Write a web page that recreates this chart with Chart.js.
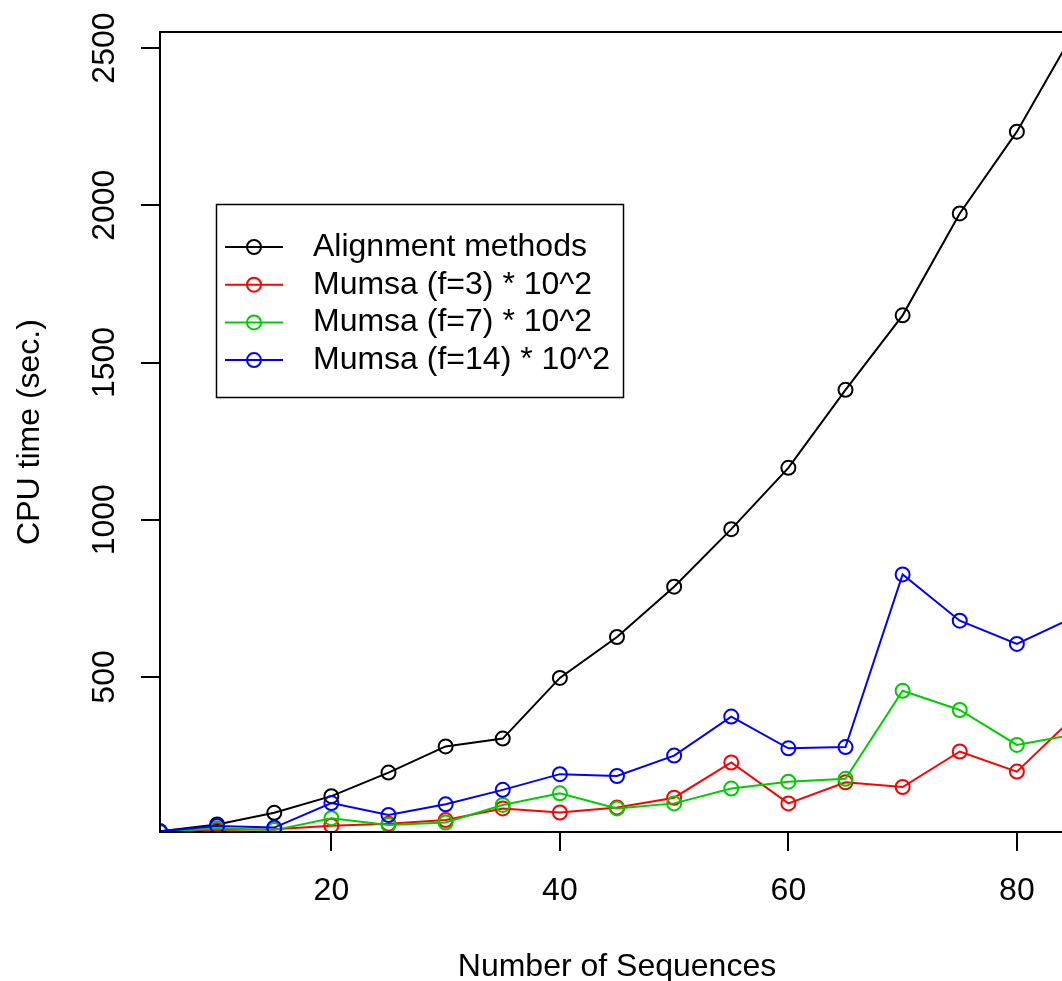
<!DOCTYPE html>
<html>
<head>
<meta charset="utf-8">
<script src="https://cdn.jsdelivr.net/npm/chart.js@4.4.1/dist/chart.umd.min.js"></script>
<style>
html, body { margin: 0; padding: 0; background: #fff; overflow: hidden; }
#cpuChart { display: block; width: 1074px; height: 981px; }
</style>
</head>
<body>
<canvas id="cpuChart" width="1074" height="981"></canvas>
<script>
// CPU time vs number of sequences
const nbSequences = [5, 10, 15, 20, 25, 30, 35, 40, 45, 50, 55, 60, 65, 70, 75, 80, 85];
const alignmentTimes = [9, 31, 68, 121, 196, 279, 304, 497, 627, 787, 970, 1165, 1413, 1650, 1974, 2234, 2551];
const mumsaF3 = [7, 13, 16, 27, 33, 45, 82, 69, 85, 116, 228, 98, 165, 150, 263, 199, 373];
const mumsaF7 = [7, 19, 13, 51, 29, 37, 93, 130, 82, 98, 145, 167, 176, 456, 395, 284, 317];
const mumsaF14 = [9, 26, 21, 99, 61, 95, 141, 191, 185, 250, 374, 273, 277, 826, 679, 605, 690];
const xTicks = [20, 40, 60, 80];
const yTicks = [500, 1000, 1500, 2000, 2500];

const FONT = "'Liberation Sans', Arial, Helvetica, sans-serif";
const FONT_SIZE = 32;

function toPoints(values) {
    return values.map((v, i) => ({ x: nbSequences[i], y: v }));
}

function serie(label, values, color, order) {
    return {
        label: label,
        data: toPoints(values),
        borderColor: color,
        backgroundColor: 'rgba(0,0,0,0)',
        borderWidth: 2,
        pointRadius: 7,
        pointBorderWidth: 2,
        pointBorderColor: color,
        pointBackgroundColor: 'rgba(0,0,0,0)',
        tension: 0,
        order: order
    };
}

// box around the plot + legend like R's legend()
const boxAndLegend = {
    id: 'boxAndLegend',
    afterDraw(chart) {
        const ctx = chart.ctx;
        const a = chart.chartArea;
        ctx.save();
        ctx.strokeStyle = '#000';
        ctx.lineWidth = 2;
        ctx.strokeRect(a.left, a.top, a.right - a.left, a.bottom - a.top);

        ctx.lineWidth = 1.5;
        ctx.strokeRect(216.5, 204.5, 407, 193);
        ctx.font = FONT_SIZE + 'px ' + FONT;
        ctx.textAlign = 'left';
        ctx.textBaseline = 'middle';
        chart.data.datasets.forEach((ds, i) => {
            const y = 247 + i * 37.7;
            ctx.strokeStyle = ds.borderColor;
            ctx.lineWidth = 2;
            ctx.beginPath();
            ctx.moveTo(225, y);
            ctx.lineTo(283, y);
            ctx.stroke();
            ctx.beginPath();
            ctx.arc(254, y, 7, 0, 2 * Math.PI);
            ctx.stroke();
            ctx.fillStyle = '#000';
            ctx.fillText(ds.label, 313, y);
        });
        ctx.restore();
    }
};

document.addEventListener('DOMContentLoaded', function() {
    const ctx = document.getElementById('cpuChart').getContext('2d');
    new Chart(ctx, {
        type: 'line',
        data: {
            datasets: [
                serie('Alignment methods', alignmentTimes, '#000000', 4),
                serie('Mumsa (f=3) * 10^2', mumsaF3, '#ff0000', 3),
                serie('Mumsa (f=7) * 10^2', mumsaF7, '#00cd00', 2),
                serie('Mumsa (f=14) * 10^2', mumsaF14, '#0000ff', 1)
            ]
        },
        options: {
            responsive: false,
            devicePixelRatio: 1,
            animation: false,
            events: [],
            // canvas is wider than the window: the original figure is cut on the right
            layout: { autoPadding: false, padding: { top: 32, left: 0, right: 0, bottom: 0 } },
            plugins: {
                legend: { display: false },
                tooltip: { enabled: false }
            },
            scales: {
                x: {
                    type: 'linear',
                    min: 5,
                    max: 85,
                    afterBuildTicks: s => { s.ticks = xTicks.map(v => ({ value: v })); },
                    afterFit: s => { s.height = 149; },
                    border: { display: false },
                    grid: { drawOnChartArea: false, drawTicks: true, tickLength: 19, color: '#000', lineWidth: 2 },
                    ticks: {
                        color: '#000',
                        font: { family: FONT, size: FONT_SIZE },
                        padding: 21,
                        maxRotation: 0,
                        callback: v => String(v)
                    },
                    title: {
                        display: true,
                        text: 'Number of Sequences',
                        color: '#000',
                        font: { family: FONT, size: FONT_SIZE, lineHeight: 1 },
                        padding: { top: 0, bottom: -2 }
                    }
                },
                y: {
                    type: 'linear',
                    min: 7,
                    max: 2551,
                    afterBuildTicks: s => { s.ticks = yTicks.map(v => ({ value: v })); },
                    afterFit: s => { s.width = 160; },
                    border: { display: false },
                    grid: { drawOnChartArea: false, drawTicks: true, tickLength: 19, color: '#000', lineWidth: 2 },
                    ticks: {
                        color: '#000',
                        font: { family: FONT, size: FONT_SIZE },
                        minRotation: 90,
                        maxRotation: 90,
                        crossAlign: 'center',
                        padding: 0,
                        callback: v => String(v)
                    },
                    title: {
                        display: true,
                        text: 'CPU time (sec.)',
                        color: '#000',
                        font: { family: FONT, size: FONT_SIZE, lineHeight: 1 },
                        padding: { top: 14, bottom: 0 }
                    }
                }
            }
        },
        plugins: [boxAndLegend]
    });
});
</script>
</body>
</html>
